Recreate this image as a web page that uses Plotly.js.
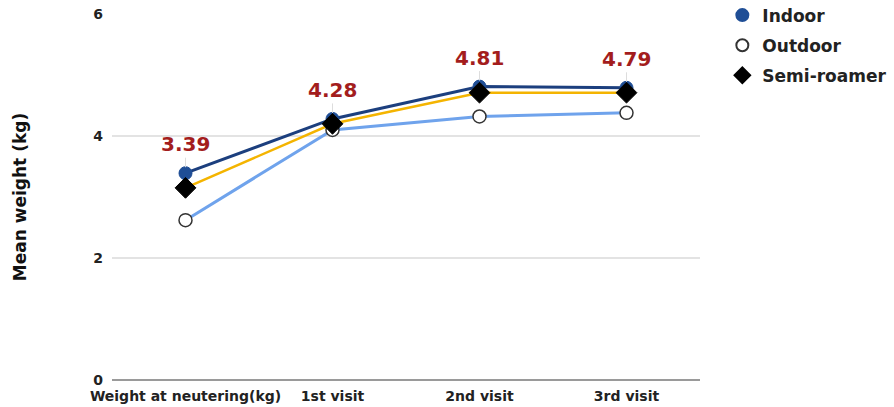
<!DOCTYPE html>
<html>
<head>
<meta charset="utf-8">
<script src="https://cdn.plot.ly/plotly-3.0.1.min.js"></script>
<style>
  html, body { margin: 0; padding: 0; background: #fff; }
  #chart { width: 894px; height: 407px; }
</style>
</head>
<body>
<div id="chart"></div>
<script>
// Mean cat weight at neutering and at follow-up visits, by lifestyle
const categories = ["Weight at neutering(kg)", "1st visit", "2nd visit", "3rd visit"];
const indoor = [3.39, 4.28, 4.81, 4.79];
const outdoor = [2.62, 4.10, 4.32, 4.38];
const semiRoamer = [3.15, 4.20, 4.71, 4.71];
const yTicks = [0, 2, 4, 6];

const FONT = "'DejaVu Sans', Roboto, Arial, sans-serif";

const series = [
  { name: "Indoor", y: indoor, line: "#1c3f7e", lineWidth: 3,
    marker: { symbol: "circle", size: 13, color: "#1f4e96", line: { color: "#1f4e96", width: 1 } } },
  { name: "Outdoor", y: outdoor, line: "#6fa3ec", lineWidth: 3,
    marker: { symbol: "circle", size: 13, color: "#ffffff", line: { color: "#333333", width: 1.5 } } },
  { name: "Semi-roamer", y: semiRoamer, line: "#f4b400", lineWidth: 2.5,
    marker: { symbol: "diamond", size: 16, color: "#000000", line: { color: "#000000", width: 1 } } }
];

const traces = [];
// connecting lines first, so every marker sits on top
series.forEach(s => {
  traces.push({
    type: "scatter", mode: "lines", x: categories, y: s.y,
    line: { color: s.line, width: s.lineWidth },
    showlegend: false, hoverinfo: "skip", cliponaxis: false
  });
});
series.forEach((s, i) => {
  traces.push({
    type: "scatter", mode: "markers", name: s.name, x: categories, y: s.y,
    marker: s.marker, legendgroup: "g" + i, cliponaxis: false
  });
});

// value labels for the indoor series, with thin leader stems
const annotations = indoor.map((v, i) => ({
  x: categories[i], y: v, xref: "x", yref: "y",
  text: v.toFixed(2),
  showarrow: true, arrowhead: 0, arrowwidth: 1, arrowcolor: "#dddddd",
  ax: 0, ay: -29, standoff: 6,
  font: { family: FONT, size: 20, color: "#a31d1d", weight: 700 }
}));

const layout = {
  width: 894, height: 407,
  margin: { l: 112, r: 194, t: 14, b: 27, autoexpand: false },
  paper_bgcolor: "#ffffff", plot_bgcolor: "#ffffff",
  font: { family: FONT, color: "#222222", weight: 700 },
  xaxis: {
    type: "category", range: [-0.5, 3.5],
    showgrid: false, zeroline: false, showline: false, ticks: "",
    ticklabelstandoff: 6,
    tickfont: { family: FONT, size: 14, color: "#222222", weight: 700 }
  },
  yaxis: {
    range: [0, 6], tickvals: yTicks, ticktext: yTicks.map(String),
    showgrid: true, gridcolor: "#e3e3e3", gridwidth: 1.5,
    zeroline: true, zerolinecolor: "#9a9a9a", zerolinewidth: 2,
    showline: false, ticks: "", ticklabelstandoff: 8,
    tickfont: { family: FONT, size: 14, color: "#222222", weight: 700 },
    title: { text: "Mean weight (kg)", standoff: 62,
      font: { family: FONT, size: 17, color: "#111111", weight: 700 } }
  },
  legend: {
    x: 1.038, y: 1.045, xanchor: "left", yanchor: "top",
    font: { family: FONT, size: 17, color: "#222222", weight: 700 },
    tracegroupgap: 5, itemsizing: "constant"
  },
  annotations: annotations
};

Plotly.newPlot("chart", traces, layout, { staticPlot: true, displayModeBar: false });
</script>
</body>
</html>
